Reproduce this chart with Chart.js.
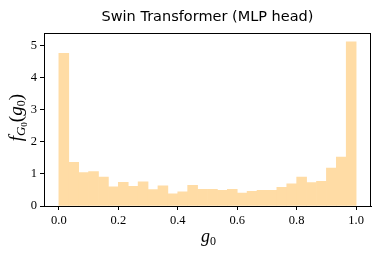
<!DOCTYPE html>
<html>
<head>
<meta charset="UTF-8">
<title>Swin Transformer (MLP head)</title>
<script src="https://cdn.jsdelivr.net/npm/chart.js@4.4.0/dist/chart.umd.min.js"></script>
<style>
  html, body { margin: 0; padding: 0; background: #fff; }
  #wrap { width: 381px; height: 254px; }
</style>
</head>
<body>
<div id="wrap"><canvas id="myChart"></canvas></div>
<script>
// histogram of g0, 30 bins on [0, 1]
const densities = [4.75, 1.36, 1.04, 1.07, 0.90, 0.60, 0.74, 0.61, 0.75, 0.51,
                   0.63, 0.38, 0.44, 0.64, 0.52, 0.52, 0.49, 0.52, 0.40, 0.46,
                   0.49, 0.49, 0.58, 0.69, 0.90, 0.73, 0.77, 1.18, 1.52, 5.11];
const xTicks = [0.0, 0.2, 0.4, 0.6, 0.8, 1.0];
const yTicks = [0, 1, 2, 3, 4, 5];
const titleText = "Swin Transformer (MLP head)";

const binCenters = densities.map((_, i) => (i + 0.5) / densities.length);
const points = binCenters.map((x, i) => ({ x: x, y: densities[i] }));

const serif = "'Liberation Serif', 'DejaVu Serif', serif";

// draw a run of pieces [text, size, dy, italic]
function drawPieces(ctx, pieces, cx, cy) {
    let total = 0;
    pieces.forEach(p => {
        ctx.font = (p[3] ? 'italic ' : '') + p[1] + 'px ' + serif;
        total += ctx.measureText(p[0]).width;
    });
    let x = cx - total / 2;
    pieces.forEach(p => {
        ctx.font = (p[3] ? 'italic ' : '') + p[1] + 'px ' + serif;
        ctx.fillText(p[0], x, cy + p[2]);
        x += ctx.measureText(p[0]).width;
    });
}

const frameAndLabels = {
    id: 'frameAndLabels',
    afterDraw(chart) {
        const ctx = chart.ctx;
        const a = chart.chartArea;
        ctx.save();
        ctx.strokeStyle = '#000';
        ctx.lineWidth = 1;
        ctx.strokeRect(Math.round(a.left) + 0.5, Math.round(a.top) + 0.5,
                       Math.round(a.right - a.left) - 1, Math.round(a.bottom - a.top));
        ctx.fillStyle = '#000';
        ctx.textBaseline = 'alphabetic';
        // x label g_0
        drawPieces(ctx, [['g', 18, 0, true], ['0', 12, 3, false]], (a.left + a.right) / 2 + 1, 242);
        // y label f_{G_0}(g_0)
        ctx.translate(22, (a.top + a.bottom) / 2 - 2);
        ctx.rotate(-Math.PI / 2);
        drawPieces(ctx, [['f', 19, 0, true], ['G', 13, 3, true], ['0', 9, 5, false],
                         ['(', 19, 0, false], ['g', 19, 0, true], ['0', 12, 3, false],
                         [')', 19, 0, false]], 0, 0);
        ctx.restore();
    }
};

const ctx = document.getElementById('myChart').getContext('2d');
const myChart = new Chart(ctx, {
    type: 'bar',
    data: {
        datasets: [{
            data: points,
            backgroundColor: '#ffdca5',
            borderWidth: 0,
            barPercentage: 1.0,
            categoryPercentage: 1.0
        }]
    },
    options: {
        responsive: true,
        maintainAspectRatio: false,
        animation: false,
        layout: { padding: { left: 0, right: 10, top: 0, bottom: 0 } },
        plugins: {
            legend: { display: false },
            tooltip: { enabled: false },
            title: {
                display: true,
                text: titleText,
                fullSize: false,
                color: '#000',
                font: { family: "'DejaVu Sans', sans-serif", size: 14.5, weight: 'normal' },
                padding: { top: 9, bottom: 7 }
            }
        },
        scales: {
            x: {
                type: 'linear',
                min: -0.05,
                max: 1.05,
                offset: false,
                grid: { display: true, drawOnChartArea: false, drawTicks: true, tickLength: 4, color: '#000', offset: false },
                border: { display: true, color: '#000' },
                afterBuildTicks: s => { s.ticks = xTicks.map(v => ({ value: v })); },
                afterFit: s => { s.height = 48; },
                ticks: {
                    color: '#000',
                    padding: 3,
                    maxRotation: 0,
                    font: { family: serif, size: 12.5 },
                    callback: v => Number(v).toFixed(1)
                }
            },
            y: {
                min: 0,
                max: 5.37,
                grid: { display: true, drawOnChartArea: false, drawTicks: true, tickLength: 4, color: '#000' },
                border: { display: true, color: '#000' },
                afterBuildTicks: s => { s.ticks = yTicks.map(v => ({ value: v })); },
                afterFit: s => { s.width = 44; },
                ticks: {
                    color: '#000',
                    padding: 3,
                    font: { family: serif, size: 12.5 },
                    callback: v => String(v)
                }
            }
        }
    },
    plugins: [frameAndLabels]
});
</script>
</body>
</html>
